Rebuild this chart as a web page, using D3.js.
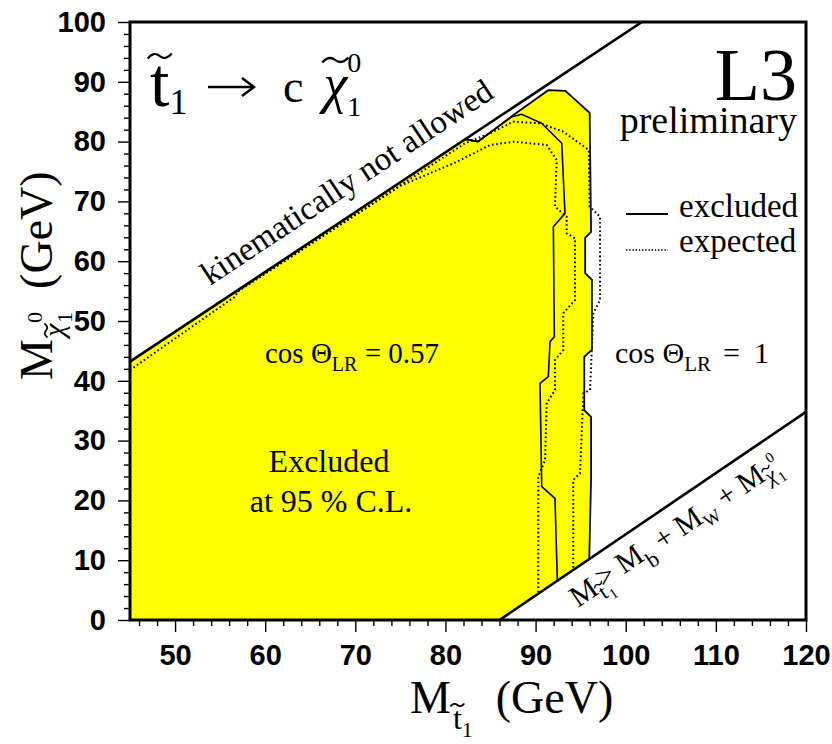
<!DOCTYPE html>
<html><head><meta charset="utf-8">
<script src="https://cdn.jsdelivr.net/npm/d3@7"></script>
<style>body{margin:0;background:#fff}svg{display:block}text{white-space:pre}</style>
</head><body><svg id="c" width="832" height="744"></svg>
<script>
// ---------- data ----------
const xTicks = [50,60,70,80,90,100,110,120];
const yTicks = [0,10,20,30,40,50,60,70,80,90,100];
const kinLine = [[45,43.2],[101.8,100]];          // M_chi = M_stop - m_c
const wLine = [[86.0,0],[120,34.8]];               // M_stop > M_b + M_W + M_chi
const excludedArea = [[45,0],[45,43.2],[82.2,80.4],[83.6,80.0],[87.5,84.4],[91.4,88.6],[93.3,88.5],[96.0,84.8],[96.15,64.9],[95.5,63.9],[95.5,58.0],[96.25,56.9],[96.25,45.2],[95.4,44.0],[95.4,35.1],[96.15,33.95],[96.15,23.4],[95.95,10.2],[86.0,0]];
const obsOuter = [[82.2,80.4],[83.6,80.0],[87.5,84.4],[91.4,88.6],[93.3,88.5],[96.0,84.8],[96.15,64.9],[95.5,63.9],[95.5,58.0],[96.25,56.9],[96.25,45.2],[95.4,44.0],[95.4,35.1],[96.15,33.95],[96.15,23.4],[95.95,10.2]];
const obsInner = [[82.2,80.4],[83.6,80.0],[87.3,84.1],[88.46,84.57],[90.68,83.06],[92.9,79.72],[93.26,68.0],[91.97,65.77],[92.08,47.37],[91.6,46.54],[91.41,40.69],[90.49,39.58],[90.68,22.29],[92.15,20.35],[92.41,6.6]];
const expInner = [[45,41.8],[56.65,54.07],[57.0,55.0],[75.0,72.6],[81.24,76.6],[84.94,79.43],[87.53,79.98],[89.38,79.72],[91.23,79.43],[92.34,76.92],[92.15,69.11],[93.45,67.44],[93.45,64.67],[94.37,63.83],[94.37,53.51],[93.07,51.29],[93.07,45.15],[92.15,43.48],[92.15,38.46],[91.23,36.24],[91.05,26.76],[90.3,23.96],[90.3,4.4]];
const expOuter = [[57.0,55.0],[82.17,79.72],[84.94,81.39],[87.53,83.33],[90.49,83.06],[93.07,81.66],[95.9,78.6],[96.0,69.11],[97.15,67.44],[97.15,53.51],[96.41,51.29],[96.04,38.46],[95.30,37.91],[94.93,24.53],[94.18,23.41],[94.18,8.4]];

// ---------- setup ----------
const svg = d3.select("#c");
const SERIF = "Liberation Serif, Times New Roman, serif";
const SANS = "Liberation Sans, Arial, Helvetica, sans-serif";
const x = d3.scaleLinear().domain([45,120]).range([130,806]);
const y = d3.scaleLinear().domain([0,100]).range([620,22]);
const line = d3.line().x(d=>x(d[0])).y(d=>y(d[1]));

svg.append("defs").append("clipPath").attr("id","clip")
  .append("rect").attr("x",130).attr("y",22).attr("width",676).attr("height",598);
const plot = svg.append("g").attr("clip-path","url(#clip)");

plot.append("path").attr("d", line(excludedArea)+"Z").attr("fill","#ffff00").attr("stroke","none");
plot.append("path").attr("d", line(expInner)).attr("fill","none").attr("stroke","#000").attr("stroke-width",2).attr("stroke-dasharray","1.6,2.6");
plot.append("path").attr("d", line(expOuter)).attr("fill","none").attr("stroke","#000").attr("stroke-width",2).attr("stroke-dasharray","1.6,2.6");
plot.append("path").attr("d", line(obsInner)).attr("fill","none").attr("stroke","#000").attr("stroke-width",1.6);
plot.append("path").attr("d", line(obsOuter)).attr("fill","none").attr("stroke","#000").attr("stroke-width",1.8);
plot.append("path").attr("d", line(kinLine)).attr("fill","none").attr("stroke","#000").attr("stroke-width",2.6);
plot.append("path").attr("d", line(wLine)).attr("fill","none").attr("stroke","#000").attr("stroke-width",2.6);

// ---------- axes ----------
const minorX = d3.range(46,121,2).filter(v=>v%10!==0);
const minorY = d3.range(2,100,2).filter(v=>v%10!==0);
svg.append("g").attr("transform","translate(0,620)").call(d3.axisBottom(x).tickValues(minorX).tickSize(6).tickFormat(""))
  .call(g=>g.select(".domain").remove()).selectAll("line").attr("stroke-width",1.4);
svg.append("g").attr("transform","translate(130,0)").call(d3.axisLeft(y).tickValues(minorY).tickSize(6).tickFormat(""))
  .call(g=>g.select(".domain").remove()).selectAll("line").attr("stroke-width",1.4);
const xa = svg.append("g").attr("transform","translate(0,620)").call(d3.axisBottom(x).tickValues(xTicks).tickSize(12).tickPadding(12).tickFormat(d3.format("d")));
xa.select(".domain").remove();
xa.selectAll("line").attr("stroke-width",1.4);
xa.selectAll("text").attr("font-family",SANS).attr("font-weight","bold").attr("font-size",29).attr("fill","#000");
const ya = svg.append("g").attr("transform","translate(130,0)").call(d3.axisLeft(y).tickValues(yTicks).tickSize(12).tickPadding(12).tickFormat(d3.format("d")));
ya.select(".domain").remove();
ya.selectAll("line").attr("stroke-width",1.4);
ya.selectAll("text").attr("font-family",SANS).attr("font-weight","bold").attr("font-size",29).attr("fill","#000");

svg.append("rect").attr("x",130).attr("y",22).attr("width",676).attr("height",598)
  .attr("fill","none").attr("stroke","#000").attr("stroke-width",3);

// ---------- rich text helper ----------
function tilde(g, cx, cy, w, h, sw){
  g.append("path").attr("d",`M${cx-w/2},${cy+h/2} Q${cx-w/4},${cy-h} ${cx},${cy} T${cx+w/2},${cy-h/2}`)
    .attr("fill","none").attr("stroke","#000").attr("stroke-width",sw||2);
}
function rich(g, parts){
  let cx = 0, lastStart = 0;
  parts.forEach(p=>{
    let sx = (p.stack ? lastStart : cx) + (p.dx||0);
    const t = g.append("text").attr("x",sx).attr("y",p.dy||0).attr("font-family",SERIF)
      .attr("font-size",p.fs).attr("fill","#000").attr("xml:space","preserve").text(p.s);
    if(p.italic) t.attr("font-style","italic");
    const w = t.node().getComputedTextLength();
    if(p.tilde){ tilde(g, sx+w/2+(p.tx||0), (p.dy||0)+p.tdy, p.tw||w, p.th||4, p.tsw); }
    if(p.stack){ cx = Math.max(cx, sx+w); }
    else { lastStart = sx; cx = sx + w; }
  });
  return cx;
}

// title formula top-left
const tg = svg.append("g").attr("transform","translate(150,106)");
rich(tg, [
  {s:"t", fs:70, tilde:true, tdy:-50, tw:24, th:5, tsw:2.2},
  {s:"1", fs:36, dy:8}
]);
// arrow
tg.append("path").attr("d","M58,-19 H104 M92,-28 L104,-19 L92,-10").attr("fill","none").attr("stroke","#000").attr("stroke-width",2.4);
rich(svg.append("g").attr("transform","translate(283,102)"), [
  {s:"c", fs:46},
  {s:"χ", fs:54, dx:20, italic:true, tilde:true, tdy:-42, tw:26, th:5, tsw:2.2},
  {s:"0", fs:28, dy:-30, dx:0},
  {s:"1", fs:28, dy:14, stack:true}
]);

// L3 preliminary
svg.append("text").attr("x",797).attr("y",100).attr("text-anchor","end").attr("font-family",SERIF).attr("font-size",74).text("L3");
svg.append("text").attr("x",797).attr("y",133).attr("text-anchor","end").attr("font-family",SERIF).attr("font-size",38).text("preliminary");

// legend
svg.append("line").attr("x1",626).attr("x2",668).attr("y1",214).attr("y2",214).attr("stroke","#000").attr("stroke-width",2);
svg.append("line").attr("x1",626).attr("x2",668).attr("y1",250).attr("y2",250).attr("stroke","#000").attr("stroke-width",1.6).attr("stroke-dasharray","1.4,1.8");
svg.append("text").attr("x",679).attr("y",217).attr("font-family",SERIF).attr("font-size",33).text("excluded");
svg.append("text").attr("x",679).attr("y",252).attr("font-family",SERIF).attr("font-size",33).text("expected");

// kinematic label
const angK = Math.atan2(y(kinLine[1][1])-y(kinLine[0][1]), x(kinLine[1][0])-x(kinLine[0][0]))*180/Math.PI;
svg.append("text").attr("transform",`translate(210,286) rotate(${angK})`).attr("font-family",SERIF).attr("font-size",33).text("kinematically not allowed");

// cos labels
rich(svg.append("g").attr("transform","translate(265,363)"), [
  {s:"cos Θ", fs:29},{s:"LR", fs:20, dy:8},{s:" = 0.57", fs:29}]);
rich(svg.append("g").attr("transform","translate(615,363)"), [
  {s:"cos Θ", fs:30},{s:"LR", fs:21, dy:8},{s:"=", fs:30, dx:12},{s:"1", fs:30, dx:14}]);

svg.append("text").attr("x",329).attr("y",472).attr("text-anchor","middle").attr("font-family",SERIF).attr("font-size",32).text("Excluded");
svg.append("text").attr("x",331).attr("y",512).attr("text-anchor","middle").attr("font-family",SERIF).attr("font-size",32).text("at 95 % C.L.");

// lower line label
const angW = Math.atan2(y(wLine[1][1])-y(wLine[0][1]), x(wLine[1][0])-x(wLine[0][0]))*180/Math.PI;
rich(svg.append("g").attr("transform",`translate(578,608) rotate(${angW})`), [
  {s:"M", fs:30},
  {s:"t", fs:22, dy:8, tilde:true, tdy:-16, tw:10, th:2.5, tsw:1.3},
  {s:"1", fs:15, dy:13, dx:1},
  {s:"> M", fs:30, dx:-9, dy:-2},
  {s:"b", fs:22, dy:9},
  {s:" + M", fs:30},
  {s:"W", fs:18, dy:7},
  {s:" + M", fs:30},
  {s:"χ", fs:22, dy:6, italic:true, tilde:true, tdy:-16, tw:10, th:2.5, tsw:1.3},
  {s:"0", fs:15, dy:-12, dx:1},
  {s:"1", fs:15, dy:11, stack:true}
]);

// axis titles
rich(svg.append("g").attr("transform","translate(410,713)"), [
  {s:"M", fs:46},
  {s:"t", fs:32, dy:16, dx:2, tilde:true, tdy:-24, tw:14, th:3, tsw:1.8},
  {s:"1", fs:22, dy:24},
  {s:"  (GeV)", fs:46}
]);
rich(svg.append("g").attr("transform","translate(52,380) rotate(-90)"), [
  {s:"M", fs:46},
  {s:"χ", fs:30, dy:12, dx:2, italic:true, tilde:true, tdy:-18, tw:14, th:3, tsw:1.8},
  {s:"0", fs:22, dy:-10, dx:1},
  {s:"1", fs:22, dy:20, stack:true},
  {s:"  (GeV)", fs:46}
]);
</script></body></html>
